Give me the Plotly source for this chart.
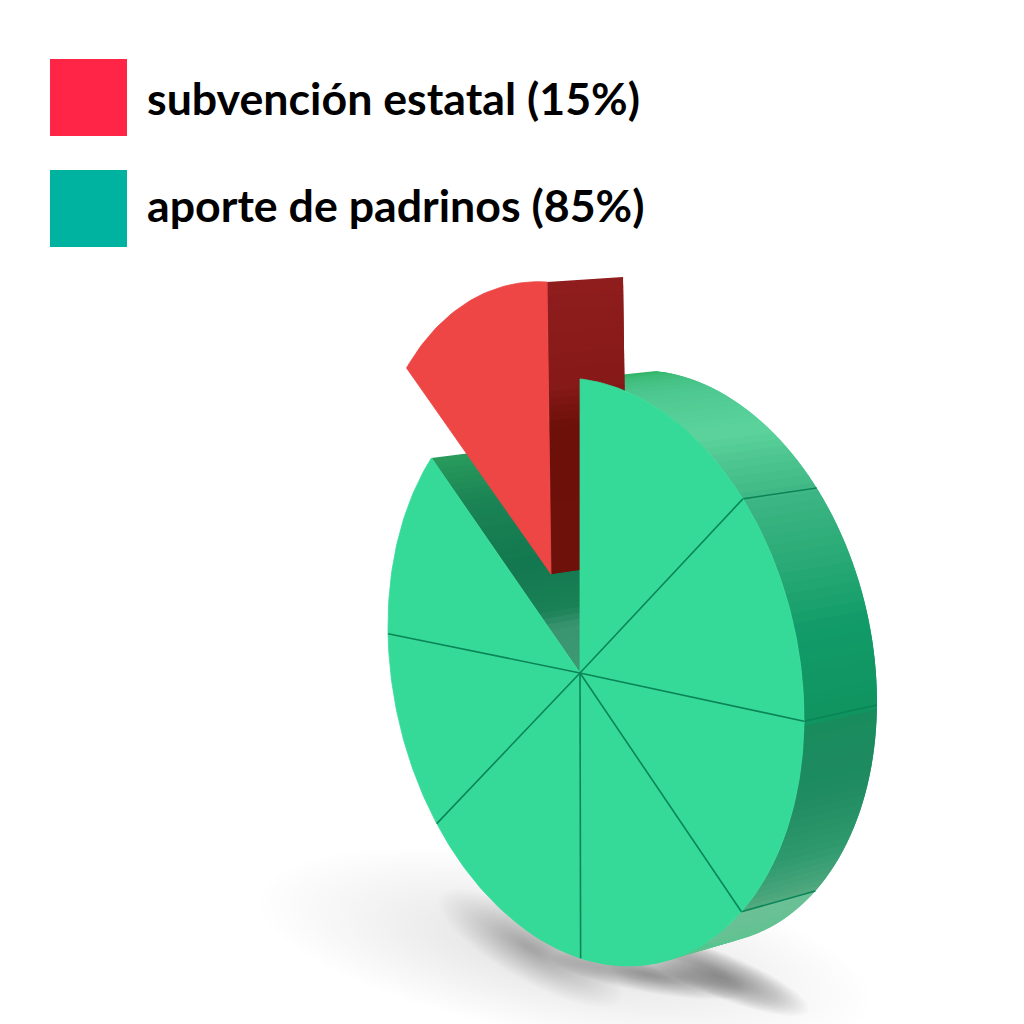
import math
import plotly.graph_objects as go

# ---- data ----
legend_labels = ["subvención estatal (15%)", "aporte de padrinos (85%)"]
legend_colors = ["#ff2547", "#00b2a0"]
# share of the ring per wedge, clockwise from the vertical spoke
slice_shares = [13.7, 12.7, 12.5, 13.5, 12.7, 10.7, 10.9, 13.3]
exploded_slice = 7

# ---- pseudo-3D projection (page pixels) ----
FRONT = dict(cx=596, cy=672, a=208, b=294)
BACK = dict(cx=672, cy=657, a=205, b=287)
TILT = 9.0
PIVOT = (580, 673)
PIVOT_BACK = (654, 658)
RED_BASE = (551, 574)
RED_MATRIX = (0.953, 0.0136, -0.0507, 0.993)
START = -94.4
FACE = "#36da98"
RED_FACE = "#ee4545"
SEAM = "#0a8558"
SIDE_STOPS = [(-95, "#2bb35f"), (-90, "#3dbb78"), (-80, "#4cc78f"), (-62, "#5cd39c"), (-45.1, "#3fb885"),
              (-45, "#3db684"), (-30, "#29aa76"), (-16, "#119b68"), (0.7, "#109460"),
              (0.8, "#188c5e"), (16, "#1f8b60"), (32, "#319a6f"), (45.6, "#53aa80"),
              (45.8, "#6cc096"), (70, "#5cc48f"), (110, "#35c98a")]
WALL_STOPS = [(0, "#2a9c5c"), (0.2, "#1b8455"), (0.5, "#13784f"), (0.72, "#1a8056"), (0.8, "#3a9570"), (1, "#3c9a72")]
RED_WALL_STOPS = [(0, "#8f1d1d"), (0.36, "#861a18"), (0.5, "#6d100a"), (1, "#6e110a")]


def rgb(h):
    return tuple(int(h[i:i + 2], 16) for i in (1, 3, 5))


def ramp(stops, v):
    if v <= stops[0][0]:
        return stops[0][1]
    for (p0, c0), (p1, c1) in zip(stops, stops[1:]):
        if v <= p1:
            f = (v - p0) / (p1 - p0)
            a, b = rgb(c0), rgb(c1)
            return "rgb(%d,%d,%d)" % tuple(round(a[i] + (b[i] - a[i]) * f) for i in range(3))
    return stops[-1][1]


def rim(t, e=FRONT):
    r = math.radians(t)
    return e["cx"] + e["a"] * math.cos(r), e["cy"] + e["b"] * math.sin(r + math.radians(TILT))


def lerp(p, q, f):
    return p[0] + (q[0] - p[0]) * f, p[1] + (q[1] - p[1]) * f


fig = go.Figure()


def poly(pts, color, line=0.0):
    xs = [p[0] for p in pts] + [pts[0][0]]
    ys = [p[1] for p in pts] + [pts[0][1]]
    fig.add_trace(go.Scatter(x=xs, y=ys, mode="lines", fill="toself", fillcolor=color,
                             line=dict(color=color if line else "rgba(0,0,0,0)", width=line),
                             hoverinfo="skip", showlegend=False))


def seam(p, q, w=1.6):
    fig.add_trace(go.Scatter(x=[p[0], q[0]], y=[p[1], q[1]], mode="lines",
                             line=dict(color=SEAM, width=w), hoverinfo="skip", showlegend=False))


def soft_ellipse(cx, cy, rx, ry, rot, layers, alpha, shrink=0.06):
    c, d = math.cos(math.radians(rot)), math.sin(math.radians(rot))
    for k in range(layers):
        s = 1 - k * (1 - shrink) / layers
        pts = []
        for i in range(40):
            a = 2 * math.pi * i / 40
            u, v = rx * s * math.cos(a), ry * s * math.sin(a)
            pts.append((cx + u * c - v * d, cy + u * d + v * c))
        poly(pts, "rgba(30,30,30,%.4f)" % alpha)


# spoke parameters from the shares
spokes = [START]
for s in slice_shares:
    spokes.append(spokes[-1] + s * 3.6)

# floor shadow
soft_ellipse(565, 950, 310, 88, 10, 30, 0.0035)
soft_ellipse(530, 948, 105, 32, 30, 30, 0.008)
soft_ellipse(650, 975, 100, 18, 10, 30, 0.012)
soft_ellipse(720, 975, 95, 22, 22, 30, 0.02)

# outer rim band: each strip runs under the next one so no gaps show
STEP = 2.0
t = START
while t < 110:
    n = min(t + STEP, 110)
    m = min(n + STEP, 110)
    poly([rim(t), rim(m), rim(m, BACK), rim(t, BACK)], ramp(SIDE_STOPS, (t + n) / 2))
    t = n
for i in (1, 2, 3):
    seam(rim(spokes[i]), rim(spokes[i], BACK))

# inner wall of the notch
t0 = spokes[exploded_slice]
t1 = spokes[exploded_slice + 1]
N = 40
for i in range(N):
    f0, f1, f2 = i / N, (i + 1) / N, min((i + 2) / N, 1)
    poly([lerp(rim(t0), PIVOT, f0), lerp(rim(t0), PIVOT, f2),
          lerp(rim(t0, BACK), PIVOT_BACK, f2), lerp(rim(t0, BACK), PIVOT_BACK, f0)],
         ramp(WALL_STOPS, (f0 + f1) / 2))


# exploded slice: the same wedge, lifted out of the ring
def move(p):
    u, v = p[0] - PIVOT[0], p[1] - PIVOT[1]
    a, b, c, d = RED_MATRIX
    return RED_BASE[0] + a * u + b * v, RED_BASE[1] + c * u + d * v


red_top = move(rim(t1))
red_base = move(PIVOT)
red_top_b = (red_top[0] + 76, red_top[1] - 5)
red_base_b = (red_base[0] + 76, red_base[1] - 11)
for i in range(N):
    f0, f1, f2 = i / N, (i + 1) / N, min((i + 2) / N, 1)
    poly([lerp(red_top, red_base, f0), lerp(red_top, red_base, f2),
          lerp(red_top_b, red_base_b, f2), lerp(red_top_b, red_base_b, f0)],
         ramp(RED_WALL_STOPS, (f0 + f1) / 2))
poly([red_base] + [move(rim(t0 + (t1 - t0) * k / 40)) for k in range(41)], RED_FACE, line=0.8)

# front faces
for i, share in enumerate(slice_shares):
    if i == exploded_slice:
        continue
    a, b = spokes[i], spokes[i + 1]
    poly([PIVOT] + [rim(a + (b - a) * k / 40) for k in range(41)], FACE, line=0.8)
for i in range(1, 7):
    seam(PIVOT, rim(spokes[i]))

# legend
for y, dy, label, color in zip((97.5, 208.5), (0.5, -3.5), legend_labels, legend_colors):
    fig.add_trace(go.Scatter(x=[88.5], y=[y], mode="markers", hoverinfo="skip", showlegend=False,
                             marker=dict(symbol="square", size=77, color=color, line=dict(width=0))))
    fig.add_annotation(x=145, y=y + dy, text="<b>%s</b>" % label, showarrow=False, xanchor="left",
                       yanchor="middle", font=dict(family="Lato", size=44.7, color="#000000"))

fig.update_xaxes(range=[0, 1024], visible=False, fixedrange=True)
fig.update_yaxes(range=[1024, 0], visible=False, fixedrange=True)
fig.update_layout(width=1024, height=1024, margin=dict(l=0, r=0, t=0, b=0),
                  paper_bgcolor="#ffffff", plot_bgcolor="#ffffff", showlegend=False)
fig.write_html("out.html", config={"displayModeBar": False},
               post_script="document.body.style.margin='0';document.body.style.overflow='hidden';")
